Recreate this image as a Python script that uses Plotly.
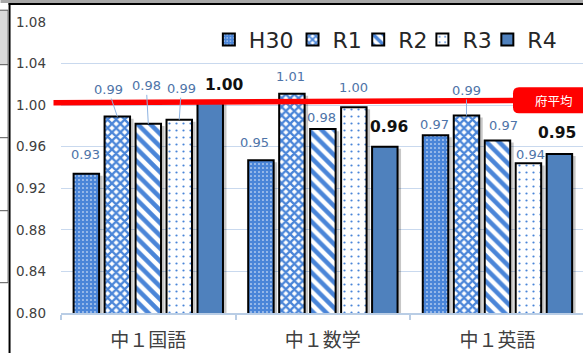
import plotly.graph_objects as go

# ---- data -------------------------------------------------------------
categories = ["中１国語", "中１数学", "中１英語"]
series_names = ["H30", "R1", "R2", "R3", "R4"]
h30 = [0.934, 0.947, 0.971]
r1 = [0.989, 1.011, 0.990]
r2 = [0.982, 0.977, 0.966]
r3 = [0.986, 0.998, 0.944]
r4 = [1.003, 0.960, 0.953]
prefecture_avg = 1.00
avg_label = "府平均"
y_ticks = [0.80, 0.84, 0.88, 0.92, 0.96, 1.00, 1.04, 1.08]

values = [h30, r1, r2, r3, r4]

# ---- geometry ----------------------------------------------------------
FIG_W, FIG_H = 583, 353
M_L, M_R, M_T, M_B = 60.5, 0, 22.3, 39.7
PLOT_W = FIG_W - M_L - M_R
PLOT_H = FIG_H - M_T - M_B
CAT_PX = 174.75                      # width of one category slot
X_RANGE = [-0.5, -0.5 + PLOT_W / CAT_PX]

BAR_W = 25.5 / CAT_PX
BAR_STEP = 31.0 / CAT_PX
SHADOW_DX = 3.5 / CAT_PX
SHADOW_DY = 0.002


def px_x(px):
    return (px - M_L) / PLOT_W


def px_y(py):
    return (FIG_H - M_B - py) / PLOT_H


BLUE = "#4a85d8"
SOLID = "#4f81bd"
styles = [
    dict(color=BLUE, pattern=dict(shape=".", fgcolor="white", bgcolor=BLUE, size=4,
                                  solidity=0.12, fgopacity=1)),
    dict(color="white", pattern=dict(shape="x", fgcolor=BLUE, bgcolor="white", size=6,
                                     solidity=0.62, fgopacity=1)),
    dict(color="white", pattern=dict(shape="\\", fgcolor=BLUE, bgcolor="white", size=9,
                                     solidity=0.5, fgopacity=1)),
    dict(color="white", pattern=dict(shape=".", fgcolor=BLUE, bgcolor="white", size=7,
                                     solidity=0.08, fgopacity=1)),
    dict(color=SOLID),
]

# label nudges (px from bar top centre) and whether a leader line is drawn
label_nudge = [
    [(-1, -19, False), (-6, -18, False), (-1.5, -11, False)],
    [(-9, -27, True), (-1, -17, False), (0, -25, True)],
    [(-2, -38, True), (-1, -12, False), (6.5, -15, False)],
    [(2, -31, True), (0, -20, False), (2.5, -9, False)],
    [(14, -17.5, False), (4, -20, False), (-2.5, -21, False)],
]

# legend placement (left edge in px)
legend_left_px = [208.5, 292.25, 358.0, 422.25, 487.25]
LEGEND_Y_PX = 40

fig = go.Figure()

# soft shadows behind bars
for i, vals in enumerate(values):
    off = (i - 2) * BAR_STEP - BAR_W / 2
    fig.add_trace(go.Bar(
        x=categories, y=[v - SHADOW_DY for v in vals], base=0,
        width=BAR_W, offset=off + SHADOW_DX,
        marker=dict(color="rgba(0,0,0,0.22)", line=dict(width=0)),
        showlegend=False, hoverinfo="skip",
    ))

legend_ids = ["legend", "legend2", "legend3", "legend4", "legend5"]
for i, (name, vals) in enumerate(zip(series_names, values)):
    off = (i - 2) * BAR_STEP - BAR_W / 2
    marker = dict(styles[i])
    marker["line"] = dict(color="black", width=2)
    marker["opacity"] = 1
    fig.add_trace(go.Bar(
        x=categories, y=vals, base=0, name=name,
        width=BAR_W, offset=off, marker=marker,
        legend=legend_ids[i],
    ))

# value labels
annotations = []
for i, vals in enumerate(values):
    bold = i == len(values) - 1
    for c, v in enumerate(vals):
        dx, dy, leader = label_nudge[i][c]
        xpos = c + (i - 2) * BAR_STEP
        text = f"{v:.2f}"
        font = dict(family="DejaVu Sans", size=15.5 if bold else 13,
                    color="#111111" if bold else "#4e74a8",
                    weight="bold" if bold else "normal")
        if leader:
            annotations.append(dict(
                x=xpos, y=v, xref="x", yref="y", text=text, font=font,
                showarrow=True, ax=dx, ay=dy, arrowhead=0, arrowwidth=1,
                arrowcolor="#8db3e2", standoff=0,
            ))
        else:
            annotations.append(dict(
                x=xpos, y=v, xref="x", yref="y", text=text, font=font,
                showarrow=False, xshift=dx, yshift=-dy,
                xanchor="center", yanchor="middle",
            ))

# prefecture average tag text
annotations.append(dict(
    x=1, xref="paper", y=prefecture_avg, yref="y", text=avg_label,
    showarrow=False, xshift=-29, yshift=5, xanchor="center", yanchor="middle",
    font=dict(family="Noto Sans CJK JP", size=12.5, color="white"),
))

shapes = [
    # prefecture average line
    dict(type="line", xref="paper", yref="y", ysizemode="pixel", yanchor=prefecture_avg,
         x0=px_x(53), x1=1.01, y0=2.4, y1=4.9,
         line=dict(color="#ff0000", width=5.5), layer="above"),
    # tag box
    dict(type="path", xref="paper", yref="y", xsizemode="pixel", ysizemode="pixel",
         xanchor=1, yanchor=prefecture_avg,
         path="M -64,18 L 6,18 L 6,-8 L -64,-8 Q -70,-8 -70,-2 L -70,12 Q -70,18 -64,18 Z",
         fillcolor="#ff0000", line=dict(width=0), layer="above"),
    # window frame: top band and border lines
    dict(type="rect", xref="paper", yref="paper", x0=px_x(0), x1=px_x(FIG_W + 2),
         y0=px_y(0), y1=px_y(3.4), fillcolor="#a8a8a8", line=dict(width=0)),
    dict(type="line", xref="paper", yref="paper", x0=px_x(8), x1=px_x(FIG_W + 2),
         y0=px_y(4.3), y1=px_y(4.3), line=dict(color="black", width=2)),
    dict(type="line", xref="paper", yref="paper", x0=px_x(9), x1=px_x(9),
         y0=px_y(3.4), y1=px_y(FIG_H + 2), line=dict(color="black", width=2)),
    # spreadsheet cells at the left edge
    dict(type="rect", xref="paper", yref="paper", x0=px_x(-2), x1=px_x(7.5),
         y0=px_y(10.5), y1=px_y(65), fillcolor="#d9d9d9", line=dict(width=0)),
    dict(type="line", xref="paper", yref="paper", x0=px_x(7.5), x1=px_x(7.5),
         y0=px_y(10.5), y1=px_y(283), line=dict(color="#6f6f6f", width=1)),
]
for ypx in [10.5, 65, 138, 211, 283]:
    shapes.append(dict(type="line", xref="paper", yref="paper", x0=px_x(-2), x1=px_x(7.5),
                       y0=px_y(ypx), y1=px_y(ypx), line=dict(color="#555555", width=1)))

legend_common = dict(
    orientation="h", xanchor="left", yanchor="middle",
    y=px_y(LEGEND_Y_PX), bgcolor="rgba(0,0,0,0)", borderwidth=0,
    font=dict(family="DejaVu Sans", size=22, color="#262626"),
    itemwidth=30,
)
legends = {}
for k, lid in enumerate(legend_ids):
    legends[lid] = dict(legend_common, x=px_x(legend_left_px[k]))

fig.update_layout(
    width=FIG_W, height=FIG_H,
    margin=dict(l=M_L, r=M_R, t=M_T, b=M_B, pad=0, autoexpand=False),
    paper_bgcolor="white", plot_bgcolor="white",
    barmode="overlay",
    showlegend=True,
    annotations=annotations,
    shapes=shapes,
    **legends,
    xaxis=dict(
        type="category", range=X_RANGE, showgrid=False,
        showline=True, linecolor="#b9cde5", linewidth=1.5,
        ticks="outside", ticklen=5, tickcolor="#b9cde5", tickwidth=1.5,
        tickson="boundaries", ticklabelstandoff=9,
        tickfont=dict(family="Noto Sans CJK JP", size=19, color="#404040"),
    ),
    yaxis=dict(
        range=[y_ticks[0], y_ticks[-1]], tickvals=y_ticks, tickformat=".2f",
        showgrid=True, gridcolor="#c9d9ee", gridwidth=1, zeroline=False,
        showline=False, ticks="", ticklabelstandoff=14,
        tickfont=dict(family="DejaVu Sans", size=13.5, color="#404040"),
    ),
)

fig.write_html("out.html")
